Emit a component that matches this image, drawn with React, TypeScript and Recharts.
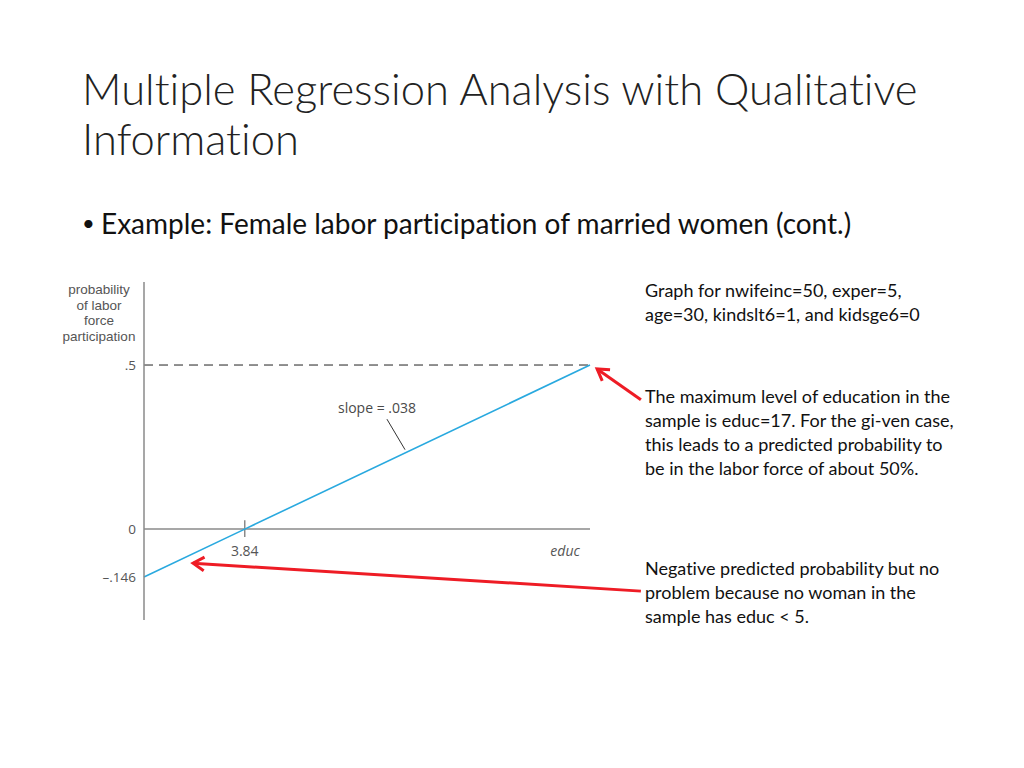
import React from "react";
import {
  LineChart,
  Line,
  XAxis,
  YAxis,
  ReferenceLine,
  ReferenceDot,
} from "recharts";

// fitted line: probability of labor force participation vs. educ
const educValues = [0, 3.84, 17];
const probValues = [-0.146, 0, 0.5];

const yTicks = [-0.146, 0, 0.5];
const yTickLabels = ["\u2013.146", "0", ".5"];

const xTickValue = 3.84;
const xTickLabel = "3.84";
const maxEduc = 17;
const maxProb = 0.5;
const slopeLabel = "slope = .038";

const yAxisTitle = ["probability", "of labor", "force", "participation"];

const noteTop = ["Graph for nwifeinc=50, exper=5,", "age=30, kindslt6=1, and kidsge6=0"];
const noteMax = [
  "The maximum level of education in the",
  "sample is educ=17. For the gi-ven case,",
  "this leads to a predicted probability to",
  "be in the labor force of about 50%.",
];
const noteNeg = [
  "Negative predicted probability but no",
  "problem because no woman in the",
  "sample has educ < 5.",
];

const data = educValues.map((educ, i) => ({ educ, prob: probValues[i] }));

const AXIS = "#8a8a8a";
const INK = "#4a4a4a";
const RED = "#ee1c25";
const chartFont = "'Open Sans', sans-serif";

// open "V" arrowhead drawn at the segment's second point
function ArrowShape(props: any) {
  const { x1, y1, x2, y2 } = props;
  const ang = Math.atan2(y2 - y1, x2 - x1);
  const len = 13;
  const spread = 0.55;
  const ax = x2 - len * Math.cos(ang - spread);
  const ay = y2 - len * Math.sin(ang - spread);
  const bx = x2 - len * Math.cos(ang + spread);
  const by = y2 - len * Math.sin(ang + spread);
  return (
    <g>
      <line x1={x1} y1={y1} x2={x2} y2={y2} stroke={RED} strokeWidth={3} />
      <polyline
        points={`${ax},${ay} ${x2},${y2} ${bx},${by}`}
        fill="none"
        stroke={RED}
        strokeWidth={3}
      />
    </g>
  );
}

// four-line axis title, stacked above the tick labels
function YTitle(props: any) {
  const { viewBox } = props;
  const cx = viewBox.x + 55;
  return (
    <g>
      {yAxisTitle.map((t, i) => (
        <text
          key={t}
          x={cx}
          y={viewBox.y + 12 + i * 15.7}
          textAnchor="middle"
          fontFamily="'Liberation Sans', Arial, sans-serif"
          fontSize={13.5}
          fill="#555"
        >
          {t}
        </text>
      ))}
    </g>
  );
}

function Note({ lines, top }: { lines: string[]; top: number }) {
  return (
    <div
      style={{
        position: "absolute",
        left: 645,
        top,
        fontFamily: "Lato, sans-serif",
        fontSize: 18,
        lineHeight: "24px",
        color: "#111",
        whiteSpace: "nowrap",
        fontVariantLigatures: "none",
      }}
    >
      {lines.map((l) => (
        <div key={l}>{l}</div>
      ))}
    </div>
  );
}

export default function App() {
  return (
    <div
      style={{
        position: "absolute",
        left: 0,
        top: 0,
        width: 1024,
        height: 768,
        background: "#fff",
        overflow: "hidden",
      }}
    >
      <div
        style={{
          position: "absolute",
          left: 82,
          top: 63,
          fontFamily: "Lato, sans-serif",
          fontWeight: 300,
          fontSize: 43.5,
          lineHeight: "50px",
          color: "#222",
          whiteSpace: "nowrap",
          fontVariantLigatures: "none",
        }}
      >
        <div>Multiple Regression Analysis with Qualitative</div>
        <div>Information</div>
      </div>
      <div
        style={{
          position: "absolute",
          left: 82,
          top: 207,
          fontFamily: "Lato, sans-serif",
          fontSize: 28,
          lineHeight: "32px",
          color: "#111",
          whiteSpace: "nowrap",
          fontVariantLigatures: "none",
        }}
      >
        <span style={{ display: "inline-block", width: 19, fontSize: 22, verticalAlign: "top" }}>
          &bull;
        </span>
        Example: Female labor participation of married women (cont.)
      </div>

      <div style={{ position: "absolute", left: 0, top: 0 }}>
        <LineChart
          width={1024}
          height={768}
          data={data}
          margin={{ top: 282, right: 434, bottom: 148, left: 44 }}
        >
          <XAxis type="number" dataKey="educ" domain={[0, maxEduc]} hide />
          <YAxis
            type="number"
            width={100}
            domain={[-0.277, 0.753]}
            ticks={yTicks}
            interval={0}
            tickFormatter={(v: number) => yTickLabels[yTicks.indexOf(v)] ?? ""}
            tickLine={false}
            axisLine={{ stroke: AXIS, strokeWidth: 1.5 }}
            tick={{ fill: "#555", fontSize: 13.5, fontFamily: chartFont }}
            label={{ content: YTitle }}
          />
          <ReferenceLine
            segment={[
              { x: 0, y: maxProb },
              { x: maxEduc, y: maxProb },
            ]}
            stroke="#222"
            strokeDasharray="9 6"
          />
          <ReferenceLine y={0} stroke={AXIS} strokeWidth={1.5} />
          <ReferenceLine
            segment={[
              { x: xTickValue, y: 0.027 },
              { x: xTickValue, y: -0.024 },
            ]}
            stroke={AXIS}
            strokeWidth={1.5}
          />
          <ReferenceDot
            x={xTickValue}
            y={0}
            r={0}
            fill="none"
            stroke="none"
            label={{
              value: xTickLabel,
              position: "bottom",
              offset: 17,
              fill: "#555",
              fontSize: 14,
              fontFamily: chartFont,
            }}
          />
          <ReferenceDot
            x={16.05}
            y={0}
            r={0}
            fill="none"
            stroke="none"
            label={{
              value: "educ",
              position: "bottom",
              offset: 17,
              fill: "#555",
              fontSize: 14,
              fontStyle: "italic",
              fontFamily: chartFont,
            }}
          />
          <Line
            type="linear"
            dataKey="prob"
            stroke="#29a9df"
            strokeWidth={1.6}
            dot={false}
            isAnimationActive={false}
          />
          <ReferenceLine
            segment={[
              { x: 9.26, y: 0.335 },
              { x: 9.95, y: 0.242 },
            ]}
            stroke="#333"
            strokeWidth={1}
          />
          <ReferenceDot
            x={8.88}
            y={0.369}
            r={0}
            fill="none"
            stroke="none"
            label={{
              value: slopeLabel,
              position: "center",
              fill: INK,
              fontSize: 14,
              fontFamily: chartFont,
            }}
          />
          <ReferenceLine
            segment={[
              { x: 18.94, y: 0.394 },
              { x: 17.27, y: 0.488 },
            ]}
            ifOverflow="visible"
            shape={ArrowShape}
          />
          <ReferenceLine
            segment={[
              { x: 18.94, y: -0.189 },
              { x: 1.87, y: -0.104 },
            ]}
            ifOverflow="visible"
            shape={ArrowShape}
          />
        </LineChart>
      </div>

      <Note lines={noteTop} top={278} />
      <Note lines={noteMax} top={384} />
      <Note lines={noteNeg} top={556} />
    </div>
  );
}
